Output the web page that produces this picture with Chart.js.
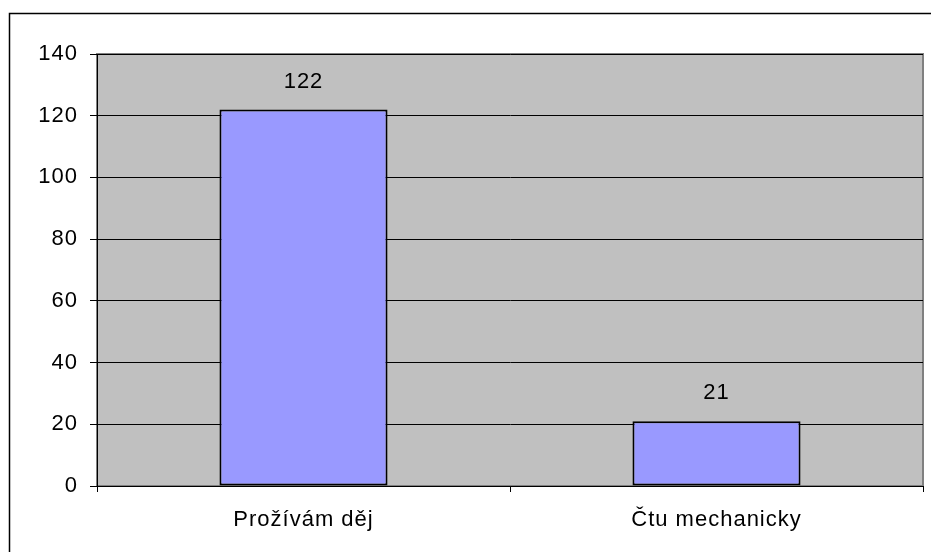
<!DOCTYPE html>
<html>
<head>
<meta charset="utf-8">
<script src="https://cdn.jsdelivr.net/npm/chart.js@4/dist/chart.umd.min.js"></script>
<style>
  html, body { margin: 0; padding: 0; background: #fff; }
  #wrap { width: 931px; height: 552px; position: relative; }
</style>
</head>
<body>
<div id="wrap"><canvas id="myChart"></canvas></div>
<script>
'use strict';

// data
let categories = ["Prožívám děj", "Čtu mechanicky"];
let values = [122, 21];
let yMin = 0;
let yMax = 140;
let yStep = 20;

let fontFam = "'Liberation Sans', Arial, sans-serif";

// fond gris + cadre exterieur
let framePlugin = {
  id: 'frame',
  beforeDraw(chart) {
    let ctx = chart.ctx;
    let a = chart.chartArea;
    ctx.save();
    ctx.fillStyle = '#fff';
    ctx.fillRect(0, 0, chart.width, chart.height);
    ctx.strokeStyle = '#000';
    ctx.lineWidth = 1.5;
    ctx.strokeRect(9.5, 13.5, chart.width + 10, chart.height + 10);
    ctx.fillStyle = '#c0c0c0';
    ctx.fillRect(a.left, a.top, a.right - a.left, a.bottom - a.top);
    ctx.strokeStyle = '#808080';
    ctx.lineWidth = 2;
    ctx.strokeRect(a.left, a.top, a.right - a.left, a.bottom - a.top);
    ctx.restore();
    // espacement des lettres comme dans l'original
    ctx.letterSpacing = '1px';
  },
  afterDatasetsDraw(chart) {
    let ctx = chart.ctx;
    let meta = chart.getDatasetMeta(0);
    ctx.save();
    ctx.fillStyle = '#000';
    ctx.font = '22px ' + fontFam;
    ctx.letterSpacing = '1px';
    ctx.textAlign = 'center';
    ctx.textBaseline = 'middle';
    meta.data.forEach(function (bar, i) {
      ctx.fillText(String(values[i]), bar.x, bar.y - 28);
    });
    ctx.restore();
  }
};

new Chart("myChart", {
  type: "bar",
  data: {
    labels: categories,
    datasets: [{
      data: values,
      backgroundColor: "#9999ff",
      borderColor: "#000",
      borderWidth: 2,
      borderSkipped: false,
      categoryPercentage: 1,
      barPercentage: 0.407
    }]
  },
  options: {
    responsive: true,
    maintainAspectRatio: false,
    animation: false,
    layout: { padding: { top: 54, right: 8, left: 0, bottom: 0 } },
    plugins: {
      legend: { display: false },
      tooltip: { enabled: false }
    },
    scales: {
      x: {
        offset: true,
        grid: { offset: true, drawOnChartArea: false, drawTicks: true, tickLength: 6, color: '#000' },
        border: { color: '#000', width: 1 },
        ticks: { color: '#000', padding: 15, font: { size: 22, family: fontFam } },
        afterFit(scale) { scale.height = 66; }
      },
      y: {
        min: yMin,
        max: yMax,
        grid: { color: '#000', lineWidth: 1, tickLength: 7 },
        border: { color: '#000', width: 1 },
        ticks: { stepSize: yStep, color: '#000', padding: 12, font: { size: 22, family: fontFam } },
        afterFit(scale) { scale.width = 97; }
      }
    }
  },
  plugins: [framePlugin]
});
</script>
</body>
</html>
